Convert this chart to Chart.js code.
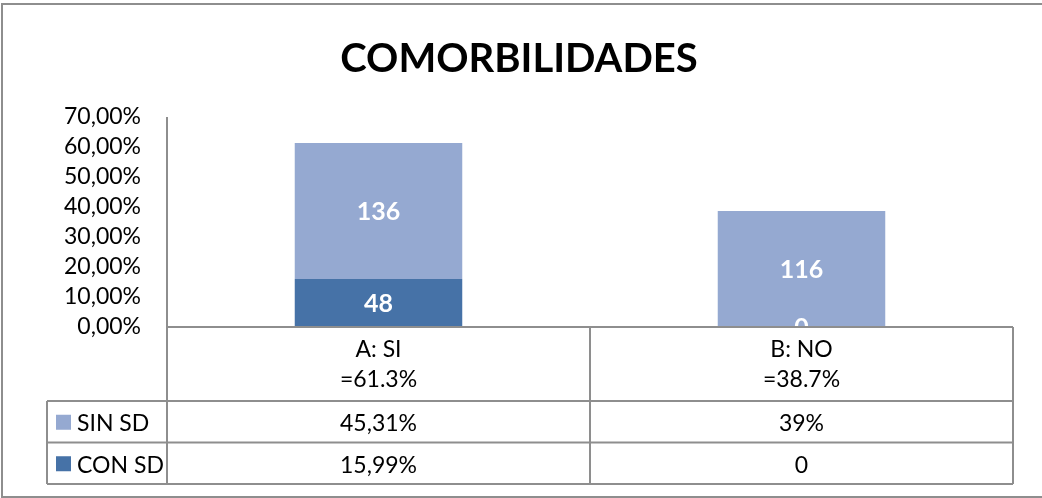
<!DOCTYPE html>
<html>
<head>
<meta charset="utf-8">
<script src="https://cdn.jsdelivr.net/npm/chart.js@4.4.1/dist/chart.umd.min.js"></script>
<style>
  html, body { margin: 0; padding: 0; background: #fff; }
  #wrap { width: 1042px; height: 498px; position: relative; }
</style>
</head>
<body>
<div id="wrap"><canvas id="chart"></canvas></div>
<script>
const chartTitle = 'COMORBILIDADES';

// categories (two lines each, like the Excel axis)
const categories = [['A: SI', '=61.3%'], ['B: NO', '=38.7%']];

// series values in percent
const conSd = [15.99, 0];
const sinSd = [45.31, 38.7];

// counts shown inside the bars
const conSdCounts = [48, 0];
const sinSdCounts = [136, 116];

// data table text under the chart
const sinSdTable = ['45,31%', '39%'];
const conSdTable = ['15,99%', '0'];

const darkBlue = '#4672a7';
const lightBlue = '#95a9d1';
const lineGray = '#8e8e8e';
const font = 'Lato, "DejaVu Sans", sans-serif';

const tableRows = [
    { name: 'SIN SD', color: lightBlue, cells: sinSdTable },
    { name: 'CON SD', color: darkBlue, cells: conSdTable }
];

const frame = {
    id: 'frame',
    beforeDraw(chart) {
        const ctx = chart.ctx;
        ctx.save();
        ctx.fillStyle = '#fff';
        ctx.fillRect(0, 0, chart.width, chart.height);
        ctx.strokeStyle = lineGray;
        ctx.lineWidth = 2;
        ctx.strokeRect(2, 4, chart.width + 10, chart.height - 5);
        // title, centred on the whole chart box
        ctx.fillStyle = '#000';
        ctx.font = 'bold 40px ' + font;
        ctx.textAlign = 'center';
        ctx.textBaseline = 'alphabetic';
        ctx.fillText(chartTitle, 519, 72);
        ctx.restore();
    }
};

const barLabels = {
    id: 'barLabels',
    afterDatasetsDraw(chart) {
        const ctx = chart.ctx;
        const area = chart.chartArea;
        const counts = [conSdCounts, sinSdCounts];
        ctx.save();
        ctx.beginPath();
        ctx.rect(area.left, area.top, area.right - area.left, area.bottom - area.top - 1);
        ctx.clip();
        ctx.fillStyle = '#fff';
        ctx.font = 'bold 25px ' + font;
        ctx.textAlign = 'center';
        ctx.textBaseline = 'middle';
        chart.data.datasets.forEach((ds, i) => {
            chart.getDatasetMeta(i).data.forEach((bar, j) => {
                const y = (bar.y + bar.base) / 2;
                ctx.fillText(String(counts[i][j]), bar.x, y + 1);
            });
        });
        ctx.restore();
    }
};

const dataTable = {
    id: 'dataTable',
    afterDraw(chart) {
        const ctx = chart.ctx;
        const area = chart.chartArea;
        const x = chart.scales.x;
        const rowH = 41.5;
        const headTop = area.bottom;
        const headBottom = headTop + 74;
        const legendLeft = 47;
        const right = area.right;
        const tableBottom = headBottom + rowH * tableRows.length;

        ctx.save();
        ctx.strokeStyle = lineGray;
        ctx.lineWidth = 2;
        ctx.beginPath();
        // horizontal rules
        ctx.moveTo(area.left, headTop); ctx.lineTo(right, headTop);
        for (let r = 0; r <= tableRows.length; r++) {
            const y = headBottom + r * rowH;
            ctx.moveTo(legendLeft, y); ctx.lineTo(right, y);
        }
        // vertical rules
        ctx.moveTo(area.left, area.top); ctx.lineTo(area.left, tableBottom);
        ctx.moveTo(legendLeft, headBottom); ctx.lineTo(legendLeft, tableBottom);
        ctx.moveTo(right, headTop); ctx.lineTo(right, tableBottom);
        for (let i = 1; i < categories.length; i++) {
            const xm = (x.getPixelForValue(i - 1) + x.getPixelForValue(i)) / 2;
            ctx.moveTo(xm, headTop); ctx.lineTo(xm, tableBottom);
        }
        ctx.stroke();

        ctx.font = '23px ' + font;
        ctx.textBaseline = 'middle';
        tableRows.forEach((row, r) => {
            const yc = headBottom + r * rowH + rowH / 2;
            ctx.fillStyle = row.color;
            ctx.fillRect(56, yc - 7, 15, 15);
            ctx.fillStyle = '#000';
            ctx.textAlign = 'left';
            ctx.fillText(row.name, 77, yc + 2);
            ctx.textAlign = 'center';
            row.cells.forEach((txt, j) => {
                ctx.fillText(txt, x.getPixelForValue(j), yc + 2);
            });
        });
        ctx.restore();
    }
};

new Chart(document.getElementById('chart'), {
    type: 'bar',
    data: {
        labels: categories,
        datasets: [
            { label: 'CON SD', data: conSd, backgroundColor: darkBlue },
            { label: 'SIN SD', data: sinSd, backgroundColor: lightBlue }
        ]
    },
    options: {
        responsive: true,
        maintainAspectRatio: false,
        animation: false,
        layout: { padding: { left: 0, right: 29, top: 117, bottom: 14 } },
        datasets: { bar: { categoryPercentage: 1, barPercentage: 0.396 } },
        plugins: {
            legend: { display: false },
            tooltip: { enabled: false },
            title: { display: false }
        },
        scales: {
            x: {
                stacked: true,
                grid: { display: false, drawTicks: false },
                border: { display: false },
                ticks: {
                    color: '#000',
                    padding: 8,
                    maxRotation: 0,
                    autoSkip: false,
                    font: { family: font, size: 23, lineHeight: 1.3 }
                },
                afterFit(scale) { scale.height = 157; }
            },
            y: {
                stacked: true,
                min: 0,
                max: 70,
                grid: { display: false, drawTicks: false },
                border: { display: false },
                ticks: {
                    stepSize: 10,
                    autoSkip: false,
                    color: '#000',
                    padding: 26,
                    font: { family: font, size: 23, lineHeight: 1 },
                    callback: v => v.toFixed(2).replace('.', ',') + '%'
                },
                afterFit(scale) { scale.width = 167; }
            }
        }
    },
    plugins: [frame, barLabels, dataTable]
});
</script>
</body>
</html>
